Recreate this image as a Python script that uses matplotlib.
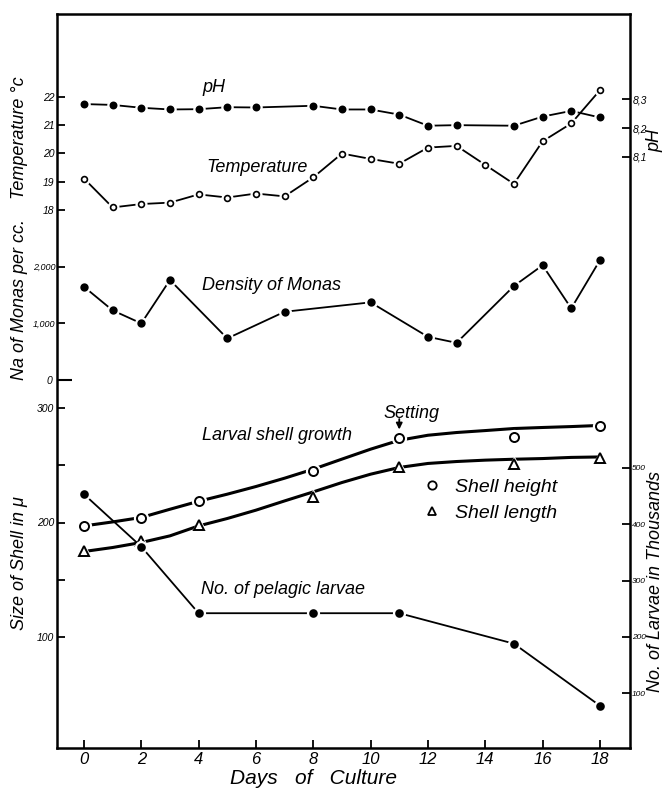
import numpy as np
import matplotlib.pyplot as plt
from matplotlib.lines import Line2D

plt.rcParams['font.family'] = ['Liberation Sans', 'DejaVu Sans']
plt.rcParams['font.style'] = 'italic'

# ---- values ----
temp_days = list(range(19))
temp = [19.11, 18.09, 18.21, 18.26, 18.55, 18.44, 18.58, 18.48, 19.15, 19.99,
        19.80, 19.63, 20.20, 20.26, 19.59, 18.92, 20.42, 21.05, 22.22]

ph_days = [0, 1, 2, 3, 4, 5, 6, 8, 9, 10, 11, 12, 13, 15, 16, 17, 18]
ph = [8.284, 8.281, 8.271, 8.265, 8.266, 8.273, 8.272, 8.278, 8.265, 8.265,
      8.247, 8.208, 8.210, 8.208, 8.240, 8.260, 8.237]

monas_days = [0, 1, 2, 3, 5, 7, 10, 12, 13, 15, 16, 17, 18]
monas = [1645, 1226, 995, 1764, 728, 1201, 1368, 757, 650, 1657, 2025, 1261, 2114]

shell_days = [0, 2, 4, 8, 11, 15, 18]
shell_height = [197.0, 204.0, 218.9, 244.7, 273.8, 275.3, 284.6]
shell_length = [175.1, 183.9, 197.6, 221.9, 249.0, 251.1, 256.9]

# hand drawn growth curves, read at every day
curve_days = list(range(19))
height_curve = [197, 200.5, 204.4, 211.6, 218.6, 224.8, 231.5, 238.8, 246.7, 255.5,
                264.2, 272, 276.4, 278.8, 280.5, 282.3, 283.2, 284, 285]
length_curve = [174.6, 178.1, 182.5, 188.3, 197, 203.5, 210.8, 218.9, 226.8, 235,
                242.3, 248.2, 251.7, 253.4, 254.6, 255.4, 256, 257, 257.4]

larvae_days = [0, 2, 4, 8, 11, 15, 18]
larvae = [453, 360, 242, 242, 242, 188, 78]

day_ticks = list(range(0, 19, 2))

# ---- layout (pixels of the 666x789 picture) ----
W, H = 666, 789
LEFT, RIGHT, TOP, BOT = 57, 630, 14, 748


def fx(px):
    return px / W


def fy(py):
    return 1 - py / H


def span(v1, p1, v2, p2):
    # y limits so that v1 sits at pixel row p1 and v2 at p2
    s = (v1 - v2) / (p2 - p1)
    return v1 - (BOT - p1) * s, v1 + (p1 - TOP) * s


fig = plt.figure(figsize=(W / 100, H / 100), dpi=100)
rect = [fx(LEFT), fy(BOT), (RIGHT - LEFT) / W, (BOT - TOP) / H]

ax = fig.add_axes(rect)
ax.set_xlim(-0.94, 19.05)
ax.set_ylim(span(300, 408.3, 100, 636.7))
for sp in ax.spines.values():
    sp.set_linewidth(1.8)
ax.set_xticks(day_ticks, [str(d) for d in day_ticks])
ax.set_yticks([100, 150, 200, 250, 300], ['100', '', '200', '', '300'])
ax.tick_params(direction='in', length=6, width=1.3)
ax.tick_params(axis='x', labelsize=12, pad=3)
ax.tick_params(axis='y', labelsize=7.5, pad=2)


def overlay(lims, side='left'):
    a = fig.add_axes(rect, frameon=False, sharex=ax)
    a.set_ylim(lims)
    a.tick_params(axis='x', bottom=False, labelbottom=False)
    if side == 'right':
        a.yaxis.tick_right()
    a.tick_params(axis='y', direction='in', length=6, width=1.3, labelsize=7.5, pad=2)
    return a


ax_t = overlay(span(22, 96.5, 18, 210))
ax_t.set_yticks([18, 19, 20, 21, 22], ['18', '19', '20', '21', '22'])

ax_m = overlay(span(2000, 266.7, 0, 379.5))
ax_m.set_yticks([1000, 2000], ['1,000', '2,000'])
ax_m.set_yticks([0], ['0'], minor=True)
ax_m.tick_params(axis='y', which='minor', direction='in', length=11, width=1.5, labelsize=7.5)
ax_m.tick_params(axis='y', labelsize=6.5, pad=1)

ax_p = overlay(span(8.3, 99.5, 8.1, 156.5), 'right')
ax_p.set_yticks([8.1, 8.2, 8.3], ['8,1', '8,2', '8,3'])

ax_l = overlay(span(500, 467.7, 100, 693.3), 'right')
ax_l.set_yticks([100, 200, 300, 400, 500], ['100', '200', '300', '400', '500'])
ax_l.tick_params(axis='y', labelsize=6, pad=1.5)


def dots(a, x, y, ms, face='k', marker='o', mew=1.2):
    a.plot(x, y, ls='none', marker=marker, ms=ms + 3.5, color='white', zorder=3)
    a.plot(x, y, ls='none', marker=marker, ms=ms, mfc=face, mec='k', mew=mew, zorder=4)


ax_p.plot(ph_days, ph, color='k', lw=1.3)
dots(ax_p, ph_days, ph, 4.5)

ax_t.plot(temp_days, temp, color='k', lw=1.3)
dots(ax_t, temp_days, temp, 4.2, face='white')

ax_m.plot(monas_days, monas, color='k', lw=1.3)
dots(ax_m, monas_days, monas, 4.8)

ax.plot(curve_days, height_curve, color='k', lw=2.2)
ax.plot(curve_days, length_curve, color='k', lw=2.2)
dots(ax, shell_days, shell_height, 6.5, face='white', mew=1.4)
dots(ax, shell_days, shell_length, 6.5, face='white', marker='^', mew=1.4)

ax_l.plot(larvae_days, larvae, color='k', lw=1.3)
dots(ax_l, larvae_days, larvae, 5)

ax.annotate('', xy=(11, 279), xytext=(11, 293),
            arrowprops=dict(arrowstyle='-|>', color='k', lw=1.3, mutation_scale=9))

# ---- lettering ----
lab = dict(fontsize=13, ha='left', va='center')
fig.text(fx(202), fy(88), 'pH', **lab)
fig.text(fx(206), fy(168), 'Temperature', **lab)
fig.text(fx(202), fy(285), 'Density of Monas', **lab)
fig.text(fx(202), fy(436), 'Larval shell growth', **lab)
fig.text(fx(201), fy(590), 'No. of pelagic larvae', **lab)
fig.text(fx(411), fy(413), 'Setting', fontsize=13, ha='center', va='center')

side = dict(fontsize=13, rotation=90, ha='center', va='center')
fig.text(fx(20), fy(138), 'Temperature °c', **side)
fig.text(fx(20), fy(300), 'Na of Monas per cc.', **side)
fig.text(fx(20), fy(563), 'Size of Shell in μ', **side)
fig.text(fx(656), fy(582), 'No. of Larvae in Thousands', **side)
fig.text(fx(655), fy(140), 'pH', **side)
fig.text(fx(313), fy(778), 'Days   of   Culture', fontsize=15, ha='center', va='center')

handles = [Line2D([], [], ls='none', marker='o', ms=6, mfc='white', mec='k', mew=1.3),
           Line2D([], [], ls='none', marker='^', ms=6, mfc='white', mec='k', mew=1.3)]
ax.legend(handles, ['Shell height', 'Shell length'], loc='upper left',
          bbox_to_anchor=(fx(422), fy(478)), bbox_transform=fig.transFigure,
          frameon=False, fontsize=14, handletextpad=0.7, labelspacing=0.45,
          handlelength=1.0, borderaxespad=0, borderpad=0)

fig.savefig('out.png', dpi=100)
